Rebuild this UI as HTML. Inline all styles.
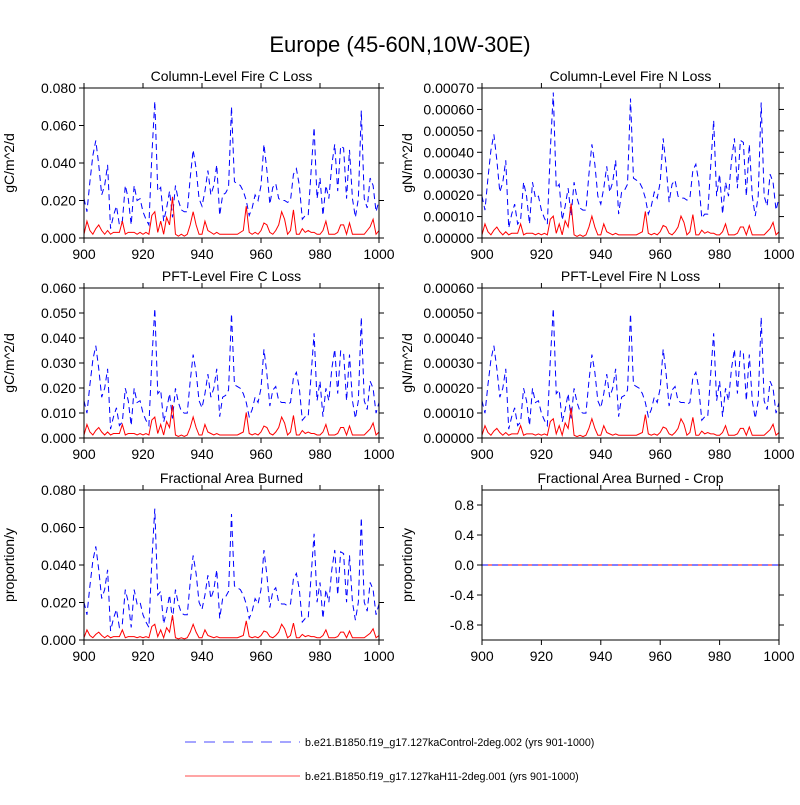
<!DOCTYPE html>
<html><head><meta charset="utf-8"><style>
body{margin:0;background:#fff;}
svg{font-family:"Liberation Sans",Arial,sans-serif;}
</style></head><body>
<svg id="chart" width="800" height="800" viewBox="0 0 800 800">
<text x="400" y="52" text-anchor="middle" font-size="22">Europe (45-60N,10W-30E)</text>
<g>
<line x1="185" y1="742" x2="300" y2="742" stroke="#6f6fff" stroke-width="1.2" stroke-dasharray="11,8"/>
<text x="305" y="746" font-size="10.7">b.e21.B1850.f19_g17.127kaControl-2deg.002 (yrs 901-1000)</text>
<line x1="185" y1="776" x2="300" y2="776" stroke="#ff6f6f" stroke-width="1.2"/>
<text x="305" y="780" font-size="10.7">b.e21.B1850.f19_g17.127kaH11-2deg.001 (yrs 901-1000)</text>
</g>
</svg>
<script>
const years = [];
for (let y = 900; y <= 1000; y++) years.push(y);
const controlC = [0.021,0.014,0.030,0.044,0.052,0.039,0.023,0.028,0.039,0.005,0.012,0.017,0.007,0.009,0.028,0.021,0.007,0.028,0.020,0.021,0.014,0.010,0.007,0.044,0.073,0.025,0.027,0.009,0.016,0.025,0.011,0.028,0.020,0.015,0.014,0.014,0.032,0.047,0.037,0.021,0.017,0.025,0.036,0.023,0.028,0.039,0.012,0.023,0.024,0.027,0.070,0.030,0.029,0.028,0.025,0.020,0.012,0.016,0.023,0.020,0.028,0.050,0.036,0.018,0.027,0.029,0.021,0.020,0.020,0.019,0.020,0.034,0.037,0.028,0.010,0.012,0.012,0.036,0.059,0.021,0.032,0.012,0.028,0.021,0.039,0.050,0.025,0.049,0.048,0.021,0.047,0.021,0.011,0.021,0.068,0.021,0.016,0.032,0.028,0.014,0.020];
const h11C = [0.002,0.009,0.004,0.002,0.005,0.007,0.004,0.002,0.004,0.002,0.003,0.003,0.003,0.009,0.002,0.003,0.003,0.003,0.002,0.003,0.002,0.003,0.002,0.012,0.014,0.003,0.009,0.002,0.011,0.007,0.022,0.002,0.001,0.002,0.001,0.002,0.007,0.014,0.007,0.002,0.002,0.009,0.004,0.003,0.002,0.003,0.002,0.002,0.002,0.002,0.002,0.002,0.002,0.003,0.004,0.017,0.003,0.002,0.003,0.002,0.004,0.008,0.007,0.003,0.002,0.004,0.007,0.014,0.010,0.002,0.004,0.015,0.002,0.002,0.005,0.003,0.004,0.003,0.003,0.002,0.002,0.004,0.009,0.002,0.002,0.002,0.003,0.007,0.007,0.002,0.008,0.002,0.002,0.002,0.002,0.002,0.004,0.006,0.010,0.002,0.004];
const cropControl = new Array(101).fill(0);
const cropH11 = new Array(101).fill(0);
// per-panel scaling of the shared shape (control, h11)
const panelScaleC = [1, 1];
const panelScaleN = [0.0093, 0.0073];
const panelScalePftC = [0.71, 0.6];
const panelScalePftN = [0.0071, 0.0055];
const panelScaleFA = [0.96, 0.6];

const NS = "http://www.w3.org/2000/svg";
const svg = document.getElementById('chart');
function mk(tag, attrs, parent) {
  const e = document.createElementNS(NS, tag);
  for (const k in attrs) e.setAttribute(k, attrs[k]);
  (parent || svg).appendChild(e);
  return e;
}
function panel(name, x0, x1, y0, y1, title, ytitle, ymin, ymax, yticks, dec, blue, red, scB, scR, ytx, blueTop) {
  const g = mk('g', {});
  
  
  const sx = v => x0 + (v - 900) / 100 * (x1 - x0);
  const sy = v => y1 - (v - ymin) / (ymax - ymin) * (y1 - y0);
  const t = mk('text', {x: (x0 + x1) / 2, y: y0 - 7, 'text-anchor': 'middle', 'font-size': 14}, g);
  t.textContent = title;
  
  
  const yt = mk('text', {x: ytx, y: (y0 + y1) / 2, 'text-anchor': 'middle', 'font-size': 14, transform: `rotate(-90 ${ytx} ${(y0 + y1) / 2})`}, g);
  yt.textContent = ytitle;
  
  
  for (let v = 900; v <= 1000; v += 20) {
    const x = sx(v);
    mk('line', {x1: x, x2: x, y1: y1, y2: y1 + 5, stroke: '#000'}, g);
    mk('line', {x1: x, x2: x, y1: y0, y2: y0 - 5, stroke: '#000'}, g);
    const l = mk('text', {x: x, y: y1 + 21, 'text-anchor': 'middle', 'font-size': 14}, g);
    l.textContent = v;
    
    
  }
  yticks.forEach(v => {
    const y = sy(v);
    mk('line', {x1: x0 - 5, x2: x0, y1: y, y2: y, stroke: '#000'}, g);
    mk('line', {x1: x1, x2: x1 + 5, y1: y, y2: y, stroke: '#000'}, g);
    const l = mk('text', {x: x0 - 8, y: y + 5, 'text-anchor': 'end', 'font-size': 14}, g);
    l.textContent = v.toFixed(dec);
    
    
  });
  const pb = blue.map((v, i) => `${sx(years[i]).toFixed(2)},${sy(v * scB).toFixed(2)}`).join(' ');
  const pr = red.map((v, i) => `${sx(years[i]).toFixed(2)},${sy(v * scR).toFixed(2)}`).join(' ');
  const drawRed = () => {
    const lr = mk('polyline', {points: pr, fill: 'none', stroke: '#ff0000', 'stroke-width': 1}, g);
    
    
  };
  if (blueTop) drawRed();
  const lb = mk('polyline', {points: pb, fill: 'none', stroke: '#0000ff', 'stroke-width': 1, 'stroke-dasharray': '6,4'}, g);
  
  
  if (!blueTop) drawRed();
  mk('rect', {x: x0, y: y0, width: x1 - x0, height: y1 - y0, fill: 'none', stroke: '#000', 'stroke-width': 1}, g);
}
const L0 = 84, L1 = 379, R0 = 482, R1 = 779;
panel('panel-column-fire-c', L0, L1, 88, 238, 'Column-Level Fire C Loss', 'gC/m^2/d', 0, 0.08, [0, 0.02, 0.04, 0.06, 0.08], 3, controlC, h11C, panelScaleC[0], panelScaleC[1], 14, false);
panel('panel-column-fire-n', R0, R1, 88, 238, 'Column-Level Fire N Loss', 'gN/m^2/d', 0, 0.0007, [0, 0.0001, 0.0002, 0.0003, 0.0004, 0.0005, 0.0006, 0.0007], 5, controlC, h11C, panelScaleN[0], panelScaleN[1], 412, false);
panel('panel-pft-fire-c', L0, L1, 288, 438, 'PFT-Level Fire C Loss', 'gC/m^2/d', 0, 0.06, [0, 0.01, 0.02, 0.03, 0.04, 0.05, 0.06], 3, controlC, h11C, panelScalePftC[0], panelScalePftC[1], 14, false);
panel('panel-pft-fire-n', R0, R1, 288, 438, 'PFT-Level Fire N Loss', 'gN/m^2/d', 0, 0.0006, [0, 0.0001, 0.0002, 0.0003, 0.0004, 0.0005, 0.0006], 5, controlC, h11C, panelScalePftN[0], panelScalePftN[1], 412, false);
panel('panel-fractional-area', L0, L1, 490, 640, 'Fractional Area Burned', 'proportion/y', 0, 0.08, [0, 0.02, 0.04, 0.06, 0.08], 3, controlC, h11C, panelScaleFA[0], panelScaleFA[1], 14, false);
panel('panel-fractional-area-crop', R0, R1, 490, 640, 'Fractional Area Burned - Crop', 'proportion/y', -1, 1, [-0.8, -0.4, 0, 0.4, 0.8], 1, cropControl, cropH11, 1, 1, 412, true);
</script>
</body></html>
